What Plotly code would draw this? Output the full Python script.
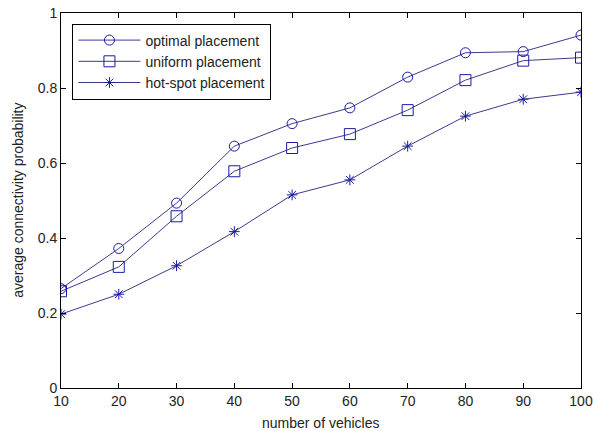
import plotly.graph_objects as go

vehicles = [10, 20, 30, 40, 50, 60, 70, 80, 90, 100]
optimal = [0.265, 0.372, 0.493, 0.645, 0.705, 0.747, 0.829, 0.894, 0.897, 0.941]
uniform = [0.258, 0.323, 0.458, 0.578, 0.640, 0.677, 0.741, 0.821, 0.873, 0.881]
hotspot = [0.197, 0.250, 0.326, 0.417, 0.515, 0.555, 0.645, 0.725, 0.770, 0.789]

names = ["optimal placement", "uniform placement", "hot-spot placement"]
series = [optimal, uniform, hotspot]
symbols = ["circle-open", "square-open", "asterisk-open"]
sizes = [10, 11, 9]

line_color = "#3b3b8f"
marker_color = "#1a1aa6"
text_color = "#222222"
font_family = "Liberation Sans, Arial"

fig = go.Figure()
for name, vals, sym, sz in zip(names, series, symbols, sizes):
    fig.add_trace(go.Scatter(
        x=vehicles, y=vals, name=name, mode="lines+markers",
        line=dict(color=line_color, width=1),
        marker=dict(symbol=sym, size=sz, color=marker_color,
                    line=dict(color=marker_color, width=1)),
    ))

axis_common = dict(
    showline=True, linecolor="black", linewidth=1, mirror="ticks",
    ticks="inside", ticklen=5, tickcolor="black", showgrid=False,
    zeroline=False, automargin=False, ticklabeloverflow="allow",
    tickfont=dict(family=font_family, size=14, color=text_color),
)

fig.update_layout(
    width=593, height=431,
    paper_bgcolor="white", plot_bgcolor="white",
    margin=dict(l=61, r=12, t=13, b=43),
    font=dict(family=font_family, size=14, color=text_color),
    showlegend=True,
    legend=dict(
        x=0.022, y=0.972, xanchor="left", yanchor="top",
        bgcolor="white", bordercolor="black", borderwidth=1,
        font=dict(size=14, color=text_color),
        tracegroupgap=0, itemwidth=62,
    ),
    xaxis=dict(range=[10, 100], tickvals=vehicles, ticktext=[str(v) for v in vehicles],
               **axis_common),
    yaxis=dict(range=[0, 1], tickvals=[0, 0.2, 0.4, 0.6, 0.8, 1],
               ticktext=["0", "0.2", "0.4", "0.6", "0.8", "1"],
               **axis_common),
    annotations=[
        dict(text="number of vehicles", xref="paper", yref="paper",
             x=0.5, y=-0.093, xanchor="center", yanchor="middle", showarrow=False,
             font=dict(size=14, color=text_color)),
        dict(text="average connectivity probability", xref="paper", yref="paper",
             x=-0.084, y=0.5, xanchor="center", yanchor="middle", textangle=-90,
             showarrow=False, font=dict(size=14, color=text_color)),
    ],
)

fig.write_html(
    "out.html",
    config={"displayModeBar": False},
    post_script="document.body.style.margin='0';document.body.style.overflow='hidden';",
)
